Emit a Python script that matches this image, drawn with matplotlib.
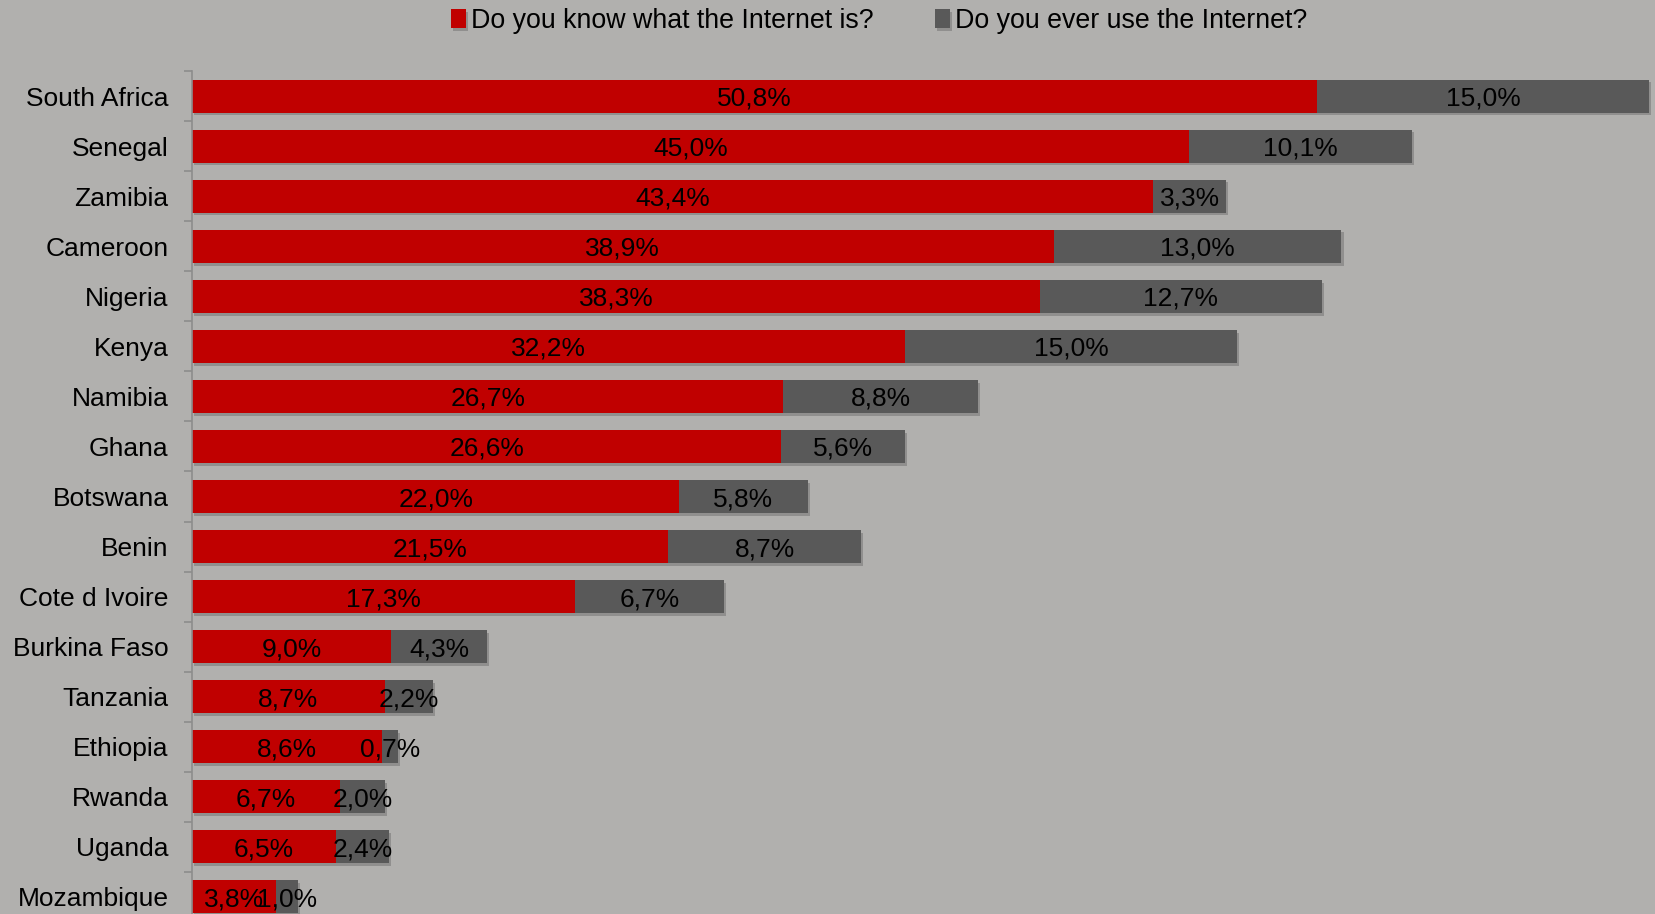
import matplotlib.pyplot as plt
import matplotlib.patheffects as pe
import numpy as np

countries = ["South Africa", "Senegal", "Zamibia", "Cameroon", "Nigeria", "Kenya",
             "Namibia", "Ghana", "Botswana", "Benin", "Cote d Ivoire", "Burkina Faso",
             "Tanzania", "Ethiopia", "Rwanda", "Uganda", "Mozambique"]
know = [50.8, 45.0, 43.4, 38.9, 38.3, 32.2, 26.7, 26.6, 22.0, 21.5, 17.3, 9.0,
        8.7, 8.6, 6.7, 6.5, 3.8]
use = [15.0, 10.1, 3.3, 13.0, 12.7, 15.0, 8.8, 5.6, 5.8, 8.7, 6.7, 4.3,
       2.2, 0.7, 2.0, 2.4, 1.0]

bg = "#b1b0ae"
red = "#c00000"
grey = "#595959"

plt.rcParams['font.family'] = ['Liberation Sans', 'DejaVu Sans']

fig = plt.figure(figsize=(16.56, 9.14), dpi=100, facecolor=bg)
ax = fig.add_axes([192 / 1656, 0, 1 - 192 / 1656, 1 - 71 / 914])
ax.set_facecolor(bg)

y = np.arange(len(countries))
shadow = [pe.SimplePatchShadow(offset=(1.5, -2), shadow_rgbFace="#7a7a7a", alpha=0.6), pe.Normal()]
b1 = ax.barh(y, know, height=0.66, color=red, label="Do you know what the Internet is?",
             path_effects=shadow, zorder=2)
b2 = ax.barh(y, use, left=know, height=0.66, color=grey, label="Do you ever use the Internet?",
             path_effects=shadow, zorder=2)

# value labels centred in each segment (small ones overlap, as in the original)
for i in range(len(countries)):
    ax.text(know[i] / 2, y[i], f"{know[i]:.1f}%".replace(".", ","), ha="center",
            va="center_baseline", fontsize=19, color="black", zorder=3)
    ax.text(know[i] + use[i] / 2, y[i], f"{use[i]:.1f}%".replace(".", ","), ha="center",
            va="center_baseline", fontsize=19, color="black", zorder=3)

ax.set_xlim(0, 66.1)
ax.set_ylim(16.34, -0.5)
ax.set_yticks(y)
ax.set_yticklabels(countries, fontsize=19)
ax.set_yticks(np.arange(-0.5, 16.5, 1), minor=True)
ax.tick_params(axis="y", which="major", length=0, pad=17)
ax.tick_params(axis="y", which="minor", length=6, color="#8c8c8c", width=1.2)
ax.set_xticks([])
for s in ["top", "right", "bottom"]:
    ax.spines[s].set_visible(False)
ax.spines["left"].set_color("#8c8c8c")
ax.spines["left"].set_linewidth(1.2)

fig.legend(handles=[b1, b2], loc="center", bbox_to_anchor=(0.531, 1 - 21 / 914), ncol=2,
           frameon=False, handlelength=0.55, handleheight=0.75, handletextpad=0.2,
           columnspacing=2.3, prop={"family": ["Liberation Sans Narrow", "Liberation Sans"], "size": 19.3})

fig.savefig("out.png", dpi=100, facecolor=bg)
